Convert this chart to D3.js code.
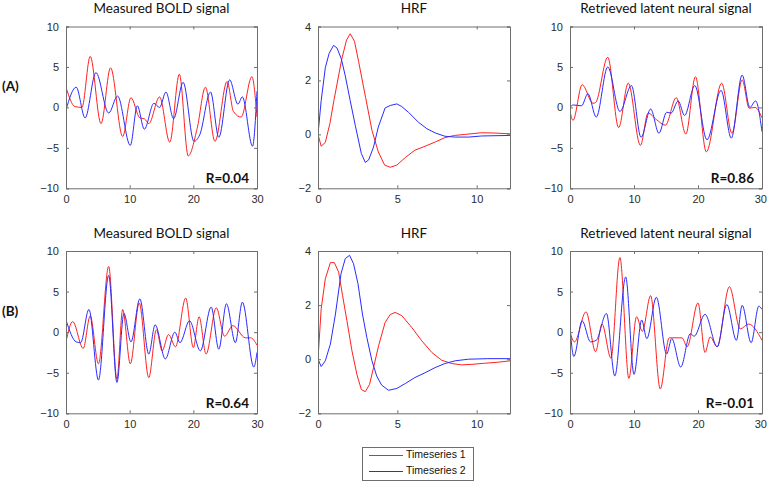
<!DOCTYPE html>
<html><head><meta charset="utf-8">
<script src="https://cdn.jsdelivr.net/npm/d3@7/dist/d3.min.js"></script>
<style>
body{margin:0;background:#fff;}
svg{display:block;}
</style></head>
<body><svg id="c" width="767" height="483"></svg>
<script>
// ---------- data ----------
const titles = ["Measured BOLD signal","HRF","Retrieved latent neural signal"];
const rowLabels = ["(A)","(B)"];
const rValues = [["R=0.04",null,"R=0.86"],["R=0.64",null,"R=-0.01"]];
const legendLabels = ["Timeseries 1","Timeseries 2"];
const signalTicksX = [0,10,20,30];
const signalTicksY = [-10,-5,0,5,10];
const hrfTicksX = [0,5,10];
const hrfTicksY = [-2,0,2,4];

// A: measured BOLD
const boldA1 = [[0,2.5],[1.4,0.1],[2.5,0],[3.8,6.3],[5.5,-2],[7.0,4.9],[8.9,-3.6],[10.2,1.2],[11.6,-1.3],[12.3,-1.4],[13.0,-2],[14.7,1.3],[16.3,-4.3],[17.8,4.1],[19.2,-6],[20.6,-2.6],[21.9,2.5],[23.4,-4.2],[25.3,3.2],[26.3,-0.5],[27.5,-1.2],[29.2,3.8],[30,-1.2]];
const boldA2 = [[0,-0.3],[1.6,2.5],[3.0,-1.3],[4.7,4.3],[6.7,-0.7],[8.1,1.4],[10.1,-4.7],[11.2,0.2],[12.3,-2.7],[13.8,0.5],[14.7,0],[15.7,1.9],[16.9,-1.4],[18.4,3.1],[20.1,-4.2],[21.0,-3.4],[22.7,1.9],[24.0,-3.7],[25.7,3.4],[27.0,0.4],[27.7,1.3],[29.3,-4.8],[30,2]];
// A: HRF
const hrfA1 = [[0,0],[0.2,-0.44],[0.46,-0.3],[0.75,0.4],[1.0,1.25],[1.5,2.8],[1.8,3.5],[2.03,3.73],[2.3,3.45],[2.56,2.7],[3.0,1.37],[3.4,0.15],[3.8,-0.65],[4.2,-1.14],[4.55,-1.22],[4.97,-1.14],[5.5,-0.86],[6.1,-0.59],[6.75,-0.44],[7.4,-0.28],[8.0,-0.12],[8.6,-0.04],[9.3,0],[10.3,0.06],[11.1,0.05],[12.1,0.02]];
const hrfA2 = [[0,0],[0.2,1.25],[0.46,2.47],[0.7,3.0],[0.98,3.3],[1.2,3.2],[1.47,2.8],[1.72,2.17],[2.03,1.25],[2.35,0.33],[2.73,-0.71],[2.98,-1.04],[3.19,-0.95],[3.5,-0.47],[3.8,0.27],[4.23,0.98],[4.55,1.07],[4.97,1.13],[5.28,1.03],[5.7,0.82],[6.33,0.45],[6.86,0.21],[7.4,0.05],[8.0,-0.07],[8.64,-0.1],[9.5,-0.1],[10.3,-0.06],[11.15,-0.05],[12.1,-0.04]];
// A: retrieved neural
const neurA1 = [[0,-0.5],[0.47,-1.6],[1.9,2.8],[3.6,0.5],[4.0,0.6],[5.9,6.2],[7.6,-2.5],[9.1,3.0],[11.0,-4.7],[12.2,-0.7],[13.5,-1.5],[14.9,-2.2],[16.6,1.2],[18.1,-3.3],[19.6,3.8],[21.3,-5.5],[23.7,3.0],[25.3,-3.2],[26.9,3.4],[28.0,-0.1],[28.9,0],[30,-1.3]];
const neurA2 = [[0,0],[0.5,0.3],[1.8,0.2],[2.8,1.7],[4.1,-1.2],[5.9,5.0],[7.8,-0.5],[9.6,2.7],[11.1,-3.7],[12.6,-0.2],[13.9,-3.2],[15.1,-0.6],[15.8,-0.7],[16.9,0.8],[17.9,-1.0],[19.5,2.7],[21.4,-4.0],[23.6,2.1],[25.2,-3.8],[26.9,4.0],[28.1,0],[29.0,0.8],[30,-3]];
// B: measured BOLD
const boldB1 = [[0,-1.2],[1.05,1.3],[2.7,-2.0],[3.8,2.0],[5.1,-3.9],[6.7,8.1],[8.0,-5.8],[8.9,2.8],[10.1,-3.9],[11.5,3.6],[13.0,-5.6],[14.2,0.3],[15.1,-2.3],[16.1,-0.3],[17.2,-1.8],[18.8,4.2],[20.0,-1.9],[20.9,1.9],[22.0,-2.7],[23.6,3.0],[24.9,-0.5],[26.2,0.8],[28.2,-0.7],[29.0,-0.7],[30,-1.6]];
const boldB2 = [[0,1.5],[1.6,-1.2],[2.3,-1.3],[3.6,2.8],[5.1,-5.9],[6.7,7.0],[8.0,-6.2],[9.1,2.3],[10.2,-1.2],[11.6,4.1],[13.0,-2.7],[14.0,0.9],[15.6,-3.3],[17.1,0],[17.9,-1.3],[19.4,1.4],[21.1,-2.3],[22.8,3.1],[24.0,-2.1],[25.2,3.5],[26.6,-1.3],[27.7,3.7],[29.5,-4.3],[30,-2.5]];
// B: HRF
const hrfB1 = [[0,0],[0.2,1.86],[0.46,2.97],[0.78,3.57],[1.03,3.57],[1.3,3.22],[1.55,2.35],[1.82,1.43],[2.14,0.31],[2.45,-0.56],[2.73,-1.12],[2.98,-1.2],[3.25,-0.93],[3.5,-0.31],[3.82,0.5],[4.23,1.36],[4.55,1.65],[4.86,1.73],[5.28,1.61],[5.9,1.18],[6.54,0.68],[7.17,0.25],[7.8,-0.04],[8.43,-0.16],[9.06,-0.21],[9.7,-0.19],[10.5,-0.15],[11.36,-0.11],[12.1,-0.06]];
const hrfB2 = [[0,0],[0.2,-0.27],[0.46,-0.06],[0.78,0.56],[1.1,1.67],[1.45,3.16],[1.72,3.72],[1.99,3.84],[2.24,3.53],[2.52,2.79],[2.8,1.67],[3.08,0.8],[3.4,-0.06],[3.7,-0.62],[4.0,-0.95],[4.44,-1.15],[4.97,-1.08],[5.5,-0.9],[6.1,-0.68],[6.75,-0.5],[7.38,-0.31],[8.0,-0.16],[8.64,-0.06],[9.48,0],[10.7,0.02],[12.1,0.02]];
// B: retrieved neural
const neurB1 = [[0,0],[0.7,-1.2],[2.5,2.5],[4.0,-2.4],[5.0,1.0],[6.4,-3.2],[7.8,9.2],[9.2,-5.7],[10.4,1.9],[11.3,0.1],[12.6,4.5],[14.1,-7.0],[15.5,-0.7],[17.5,-0.7],[18.3,-1.8],[20.0,3.6],[21.1,-2.5],[21.9,-0.6],[23.0,-1.8],[24.9,5.6],[26.6,0.4],[27.9,1.0],[30,-1.0]];
const neurB2 = [[0,0.6],[0.6,-3.0],[1.9,1.4],[3.2,-1.2],[4.1,-1.0],[5.7,2.3],[7.0,-5.4],[8.7,6.8],[10.0,-5.2],[11.2,1.5],[12.0,-0.8],[13.5,4.3],[15.1,-2.7],[15.9,-0.8],[17.3,-4.3],[18.8,-0.2],[19.4,-0.5],[21.1,2.2],[23.0,-1.8],[24.5,3.4],[26.0,-1.0],[26.9,3.3],[28.3,-1.3],[29.5,3.2],[30,2.8]];

const seriesByPanel = [
  [[boldA1,boldA2],[hrfA1,hrfA2],[neurA1,neurA2]],
  [[boldB1,boldB2],[hrfB1,hrfB2],[neurB1,neurB2]]
];
const colors = ["#ff2020","#2a2aff"];

// ---------- layout ----------
const svg = d3.select("#c");
const colX = [[66,257],[318,510],[570,762]];
const rowY = [[26.5,188.3],[251,413.3]];
const tickFont = "'Liberation Sans', Arial, sans-serif";
const titleFont = "Lato, 'Open Sans', sans-serif";
const boxColor = "#6e6e6e";

for (let r=0;r<2;r++){
  // row label
  svg.append("text").attr("x",2).attr("y",(rowY[r][0]+rowY[r][1])/2-19.5)
    .attr("dominant-baseline","middle").attr("font-family",titleFont)
    .attr("font-weight","bold").attr("font-size",13.5).attr("fill","#111").text(rowLabels[r]);
  for (let c=0;c<3;c++){
    const isHrf = c===1;
    const x = d3.scaleLinear().domain(isHrf?[0,12.1]:[0,30]).range(colX[c]);
    const y = d3.scaleLinear().domain(isHrf?[-2,4]:[-10,10]).range([rowY[r][1],rowY[r][0]]);
    const g = svg.append("g");
    const xt = isHrf?hrfTicksX:signalTicksX;
    const yt = isHrf?hrfTicksY:signalTicksY;
    // title
    g.append("text").attr("x",(colX[c][0]+colX[c][1])/2).attr("y",rowY[r][0]-16.5)
      .attr("text-anchor","middle").attr("dominant-baseline","middle")
      .attr("font-family",titleFont).attr("font-size",13.5).attr("fill","#111").text(titles[c]);
    // clip
    const cid = "clip"+r+c;
    svg.append("clipPath").attr("id",cid).append("rect")
      .attr("x",colX[c][0]).attr("y",rowY[r][0]).attr("width",colX[c][1]-colX[c][0]).attr("height",rowY[r][1]-rowY[r][0]);
    // lines
    const line = d3.line().x(d=>x(d[0])).y(d=>y(d[1]))
      .curve(isHrf?d3.curveLinear:d3.curveMonotoneX);
    seriesByPanel[r][c].forEach((s,i)=>{
      g.append("path").attr("d",line(s)).attr("fill","none")
        .attr("stroke",colors[i]).attr("stroke-width",1).attr("clip-path",`url(#${cid})`);
    });
    // axes (ticks inside, MATLAB style)
    const axB = d3.axisBottom(x).tickValues(xt).tickSize(-3).tickPadding(7).tickFormat(d3.format("d"));
    const axT = d3.axisTop(x).tickValues(xt).tickSize(-3).tickFormat("");
    const axL = d3.axisLeft(y).tickValues(yt).tickSize(-3).tickPadding(7).tickFormat(d3.format("d"));
    const axR = d3.axisRight(y).tickValues(yt).tickSize(-3).tickFormat("");
    const gb = g.append("g").attr("transform",`translate(0,${rowY[r][1]})`).call(axB);
    const gt = g.append("g").attr("transform",`translate(0,${rowY[r][0]})`).call(axT);
    const gl = g.append("g").attr("transform",`translate(${colX[c][0]},0)`).call(axL);
    const gr = g.append("g").attr("transform",`translate(${colX[c][1]},0)`).call(axR);
    [gb,gt,gl,gr].forEach(a=>{
      a.select(".domain").attr("stroke",boxColor);
      a.selectAll(".tick line").attr("stroke",boxColor);
      a.selectAll("text").attr("font-family",tickFont).attr("font-size",11).attr("fill","#2b2b2b");
    });
    if (c===2) {
      // keep the last x tick label inside the page edge
      gb.selectAll(".tick").filter(d=>d===30).select("text")
        .attr("text-anchor","end").attr("x",4.5);
    }
    // R label
    if (rValues[r][c]) {
      g.append("text").attr("x",colX[c][1]-8).attr("y",rowY[r][1]-5)
        .attr("text-anchor","end").attr("font-family",titleFont).attr("font-weight","bold")
        .attr("font-size",13.5).attr("fill","#111").text(rValues[r][c]);
    }
  }
}
// legend
const lg = svg.append("g");
lg.append("rect").attr("x",362.5).attr("y",447.5).attr("width",111).attr("height",33)
  .attr("fill","#fff").attr("stroke","#6e6e6e");
legendLabels.forEach((t,i)=>{
  const yy = 455.5+i*16;
  lg.append("line").attr("x1",369).attr("x2",403).attr("y1",yy).attr("y2",yy).attr("stroke",colors[i]);
  lg.append("text").attr("x",406).attr("y",yy).attr("dominant-baseline","middle")
    .attr("font-family",tickFont).attr("font-size",10.5).attr("fill","#111").text(t);
});
</script></body></html>
